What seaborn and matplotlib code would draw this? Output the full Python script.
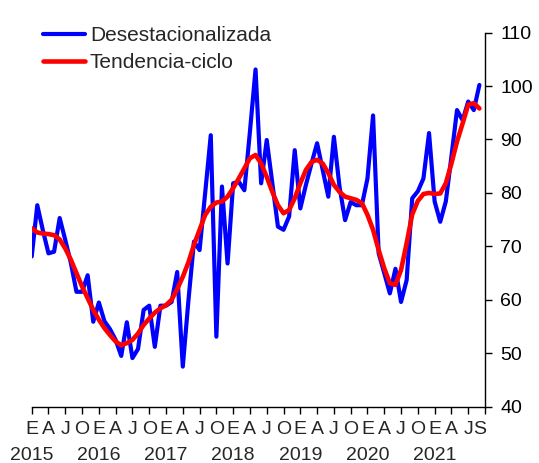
import numpy as np
import pandas as pd
import matplotlib
matplotlib.use("Agg")
import matplotlib.pyplot as plt
import seaborn as sns

## series mensuales, enero 2015 - septiembre 2021
desestacionalizada = [68.1, 77.7, 73.0, 68.7, 69.0, 75.3, 71.2, 66.9, 61.5, 61.5, 64.6, 55.9,
                      59.5, 56.0, 54.5, 52.5, 49.5, 55.8, 49.1, 50.8, 58.1, 58.9, 51.2, 58.9,
                      58.9, 59.6, 65.2, 47.5, 59.8, 70.9, 69.3, 80.0, 90.8, 53.1, 81.2, 66.8,
                      81.8, 82.1, 80.5, 91.5, 103.1, 81.8, 89.9, 81.8, 73.7, 73.1, 75.6, 88.0,
                      77.1, 81.5, 85.5, 89.3, 84.3, 79.3, 90.5, 81.2, 74.9, 78.3, 77.7, 77.7,
                      82.7, 94.5, 68.7, 65.0, 61.2, 65.8, 59.6, 63.7, 79.0, 80.3, 82.7, 91.2,
                      78.4, 74.6, 78.4, 86.8, 95.5, 93.6, 97.1, 95.5, 100.2]
tendencia = [73.4, 72.6, 72.4, 72.3, 72.1, 71.3, 69.6, 67.5, 65.0, 62.5, 60.3, 58.1,
             56.3, 54.7, 53.4, 52.2, 51.5, 51.9, 52.5, 53.7, 55.3, 56.5, 57.6, 58.4,
             59.0, 60.0, 62.0, 64.3, 67.0, 70.3, 73.1, 75.9, 77.4, 78.2, 78.4, 79.3,
             80.9, 82.7, 84.6, 86.5, 87.1, 85.5, 83.0, 80.2, 77.7, 76.2, 76.8, 79.0,
             81.8, 84.3, 85.8, 86.2, 85.5, 83.7, 81.5, 80.2, 79.3, 79.0, 78.7, 78.1,
             75.9, 73.1, 69.3, 65.9, 63.1, 62.8, 65.6, 70.6, 76.0, 78.5, 79.8, 80.0,
             79.8, 79.9, 81.8, 85.5, 89.6, 93.0, 96.5, 96.8, 95.8]
anios = [2015, 2016, 2017, 2018, 2019, 2020, 2021]
letras_mes = {0: "E", 3: "A", 6: "J", 9: "O"}
ultima_letra = "S"

sns.set_style("white")
plt.rcParams['font.family'] = ['Liberation Sans', 'DejaVu Sans']

df = pd.DataFrame({"mes": np.arange(len(desestacionalizada)),
                   "desest": desestacionalizada,
                   "tend": tendencia})

fig = plt.figure(figsize=(5.39, 4.63), dpi=100)
ax = fig.add_axes([0.0588, 0.1216, 0.841, 0.808])

sns.lineplot(data=df, x="mes", y="desest", color="#0000ff", linewidth=3,
             label="Desestacionalizada", ax=ax)
sns.lineplot(data=df, x="mes", y="tend", color="#ff0000", linewidth=3.3,
             label="Tendencia-ciclo", ax=ax)

ax.set_xlim(0, 81)
ax.set_ylim(40, 110)
ax.set_xlabel("")
ax.set_ylabel("")

# eje y a la derecha
ax.yaxis.tick_right()
ax.set_yticks(range(40, 111, 10))
ax.tick_params(axis="y", right=True, left=False, direction="out", length=5, width=1,
               labelsize=14, pad=6, colors="black")

# marcas trimestrales y etiquetas de mes/año
ax.xaxis.remove_overlapping_locs = False
ax.set_xticks(range(0, 82, 3))
ax.set_xticklabels([])
ax.tick_params(axis="x", which="major", bottom=True, direction="out", length=5, width=1,
               colors="black")

pos, labs = [], []
n = len(desestacionalizada)
for k, anio in enumerate(anios):
    for off, letra in letras_mes.items():
        m = 12 * k + off
        if m >= n - 1:
            continue
        pos.append(m)
        labs.append(letra + "\n" + str(anio) if off == 0 else letra)
pos.append(n - 1)
labs.append(ultima_letra)
ax.set_xticks(pos, minor=True)
ax.set_xticklabels(labs, minor=True, fontsize=14, linespacing=1.7)
ax.tick_params(axis="x", which="minor", bottom=True, length=0, pad=10)

for s in ["left", "top"]:
    ax.spines[s].set_visible(False)
for s in ["bottom", "right"]:
    ax.spines[s].set_color("black")
    ax.spines[s].set_linewidth(1)

leg = ax.legend(loc="upper left", bbox_to_anchor=(0.08, 0.944), bbox_transform=fig.transFigure,
                frameon=False, fontsize=15, handlelength=2.0, handletextpad=0.25,
                labelspacing=0.4, borderpad=0, borderaxespad=0)

plt.savefig("out.png", dpi=100)
